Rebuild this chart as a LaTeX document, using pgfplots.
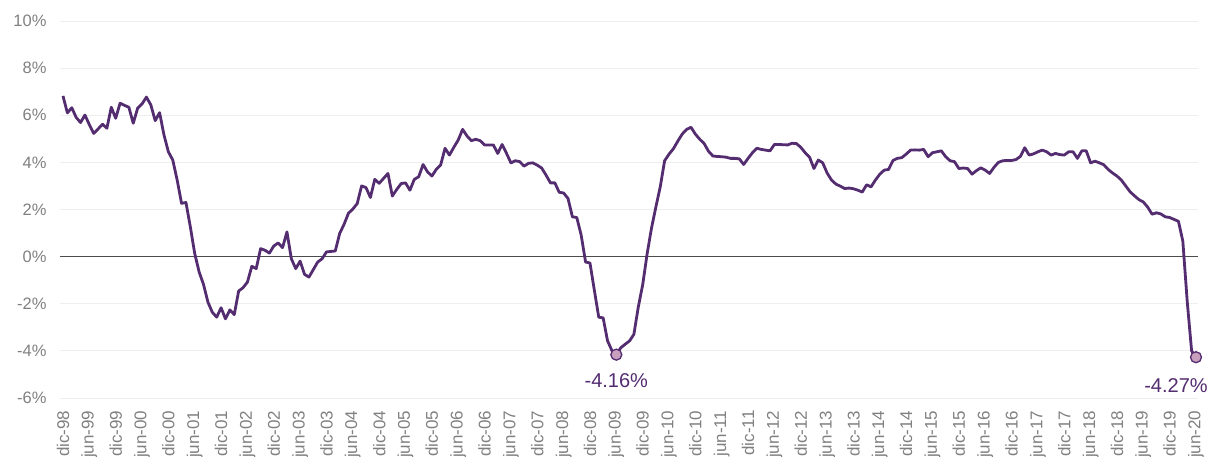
\documentclass[border=0pt]{standalone}
\usepackage{pgfplots}
\pgfplotsset{compat=1.18}
\usepackage{fontspec}
\setmainfont{Liberation Sans}
\definecolor{linepurple}{RGB}{84,44,112}
\definecolor{markfill}{RGB}{200,160,190}
\definecolor{ticklab}{RGB}{128,128,128}
\definecolor{gridc}{RGB}{238,238,238}
\begin{document}
\begin{tikzpicture}
\begin{axis}[
  at={(0,0)}, anchor=south west,
  scale only axis, width=1138pt, height=377pt,
  xmin=-0.68, xmax=258.46, ymin=-6, ymax=10,
  ytick={-6,-4,...,10},
  yticklabels={-6\%,-4\%,-2\%,0\%,2\%,4\%,6\%,8\%,10\%},
  xtick={0,6,...,258},
  xticklabels={dic-98,jun-99,dic-99,jun-00,dic-00,jun-01,dic-01,jun-02,dic-02,jun-03,dic-03,jun-04,dic-04,jun-05,dic-05,jun-06,dic-06,jun-07,dic-07,jun-08,dic-08,jun-09,dic-09,jun-10,dic-10,jun-11,dic-11,jun-12,dic-12,jun-13,dic-13,jun-14,dic-14,jun-15,dic-15,jun-16,dic-16,jun-17,dic-17,jun-18,dic-18,jun-19,dic-19,jun-20},
  ymajorgrids,
  major grid style={gridc, line width=1pt},
  extra y ticks={0}, extra y tick labels={},
  extra y tick style={major grid style={draw=black!70, line width=0.8pt}},
  axis line style={draw=none},
  tick style={draw=none},
  major tick length=0pt,
  yticklabel style={font=\fontsize{16.5}{16.5}\selectfont, text=ticklab},
  xticklabel style={rotate=90, anchor=east, font=\fontsize{17}{17}\selectfont, text=ticklab},
  xticklabel shift=9pt,
  yticklabel shift=10pt,
  clip=false,
]
\addplot[linepurple, line width=2.8pt, line join=round, mark=none] table[x=i, y=v] {
i v
0 6.82
1 6.10
2 6.32
3 5.91
4 5.69
5 6.01
6 5.60
7 5.23
8 5.42
9 5.62
10 5.45
11 6.34
12 5.87
13 6.51
14 6.42
15 6.34
16 5.66
17 6.30
18 6.48
19 6.77
20 6.44
21 5.77
22 6.11
23 5.16
24 4.45
25 4.10
26 3.25
27 2.26
28 2.30
29 1.26
30 0.13
31 -0.65
32 -1.18
33 -1.93
34 -2.36
35 -2.57
36 -2.17
37 -2.64
38 -2.26
39 -2.46
40 -1.46
41 -1.32
42 -1.08
43 -0.41
44 -0.51
45 0.34
46 0.27
47 0.15
48 0.45
49 0.58
50 0.38
51 1.05
52 -0.09
53 -0.51
54 -0.19
55 -0.75
56 -0.87
57 -0.55
58 -0.23
59 -0.09
60 0.20
61 0.22
62 0.24
63 0.98
64 1.37
65 1.84
66 2.02
67 2.25
68 3.00
69 2.93
70 2.51
71 3.28
72 3.11
73 3.32
74 3.53
75 2.57
76 2.85
77 3.10
78 3.13
79 2.82
80 3.28
81 3.39
82 3.91
83 3.60
84 3.42
85 3.70
86 3.89
87 4.60
88 4.31
89 4.64
90 4.95
91 5.40
92 5.12
93 4.92
94 4.98
95 4.92
96 4.74
97 4.74
98 4.74
99 4.38
100 4.76
101 4.38
102 3.98
103 4.07
104 4.03
105 3.84
106 3.96
107 3.98
108 3.88
109 3.76
110 3.46
111 3.13
112 3.13
113 2.73
114 2.70
115 2.47
116 1.69
117 1.66
118 0.91
119 -0.23
120 -0.27
121 -1.43
122 -2.57
123 -2.60
124 -3.57
125 -3.99
126 -4.16
127 -3.87
128 -3.72
129 -3.58
130 -3.30
131 -2.14
132 -1.20
133 0.10
134 1.20
135 2.10
136 2.96
137 4.07
138 4.35
139 4.58
140 4.90
141 5.20
142 5.40
143 5.49
144 5.20
145 4.98
146 4.80
147 4.47
148 4.27
149 4.25
150 4.24
151 4.22
152 4.17
153 4.17
154 4.15
155 3.91
156 4.17
157 4.41
158 4.60
159 4.55
160 4.52
161 4.49
162 4.76
163 4.76
164 4.75
165 4.74
166 4.81
167 4.80
168 4.64
169 4.41
170 4.22
171 3.74
172 4.10
173 3.98
174 3.55
175 3.25
176 3.08
177 2.99
178 2.89
179 2.91
180 2.88
181 2.82
182 2.74
183 3.05
184 2.96
185 3.25
186 3.50
187 3.67
188 3.70
189 4.08
190 4.17
191 4.20
192 4.35
193 4.52
194 4.53
195 4.52
196 4.55
197 4.24
198 4.41
199 4.45
200 4.49
201 4.24
202 4.07
203 4.03
204 3.74
205 3.76
206 3.74
207 3.50
208 3.65
209 3.77
210 3.67
211 3.53
212 3.79
213 4.00
214 4.07
215 4.08
216 4.08
217 4.12
218 4.25
219 4.62
220 4.31
221 4.36
222 4.45
223 4.52
224 4.45
225 4.31
226 4.38
227 4.33
228 4.31
229 4.45
230 4.45
231 4.17
232 4.49
233 4.49
234 3.98
235 4.05
236 3.98
237 3.90
238 3.70
239 3.55
240 3.42
241 3.25
242 3.00
243 2.75
244 2.58
245 2.42
246 2.32
247 2.10
248 1.80
249 1.86
250 1.81
251 1.69
252 1.66
253 1.58
254 1.50
255 0.66
256 -1.90
257 -4.00
258 -4.27
};
\addplot[only marks, mark=*, mark size=5.5pt,
  mark options={fill=markfill, draw=linepurple, line width=1.3pt},
  nodes near coords={-4.16\%},
  every node near coord/.append style={anchor=center, yshift=-26pt, font=\fontsize{20}{20}\selectfont, text=linepurple}]
  coordinates {(126,-4.16)};
\addplot[only marks, mark=*, mark size=5.5pt,
  mark options={fill=markfill, draw=linepurple, line width=1.3pt},
  nodes near coords={-4.27\%},
  every node near coord/.append style={anchor=center, xshift=-20pt, yshift=-28pt, font=\fontsize{20}{20}\selectfont, text=linepurple}]
  coordinates {(258,-4.27)};
\end{axis}
\pgfresetboundingbox
\path[use as bounding box] (-60pt,-58pt) rectangle (1157pt,398pt);
\end{tikzpicture}
\end{document}
